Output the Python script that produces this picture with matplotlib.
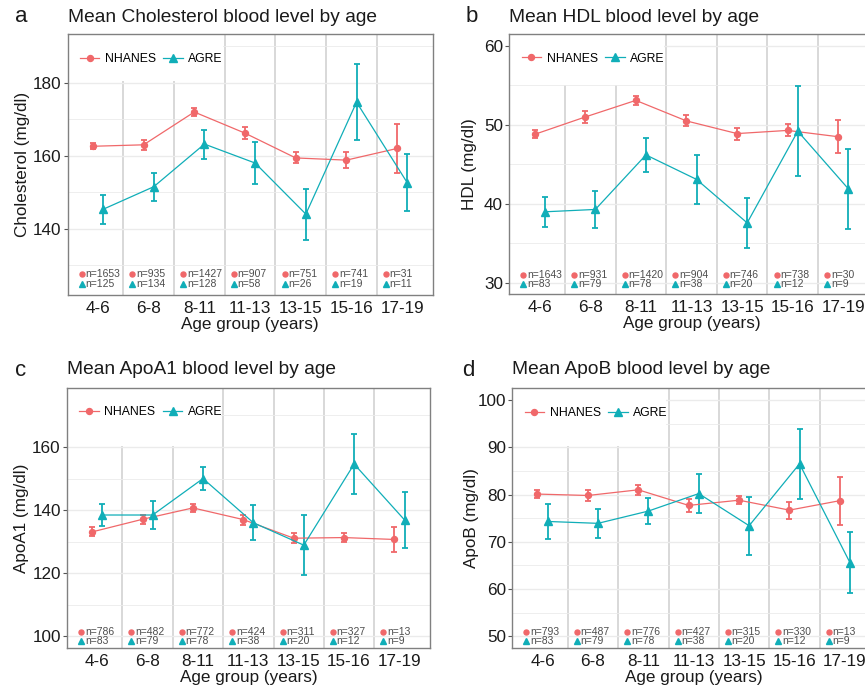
import matplotlib
matplotlib.use("Agg")
import matplotlib.pyplot as plt
from matplotlib.patches import Rectangle
from matplotlib.lines import Line2D
import numpy as np

plt.rcParams['font.family'] = ['Liberation Sans', 'DejaVu Sans']

categories = ["4-6", "6-8", "8-11", "11-13", "13-15", "15-16", "17-19"]

chol_nhanes = [162.6, 163.0, 172.0, 166.2, 159.4, 158.8, 162.0]
chol_nhanes_err = [0.8, 1.3, 1.0, 1.7, 1.5, 2.1, 6.8]
chol_agre = [145.3, 151.5, 163.2, 158.0, 144.0, 174.7, 152.6]
chol_agre_err = [4.0, 3.9, 4.0, 5.7, 7.0, 10.4, 7.8]
chol_n_nhanes = [1653, 935, 1427, 907, 751, 741, 31]
chol_n_agre = [125, 134, 128, 58, 26, 19, 11]

hdl_nhanes = [48.8, 51.0, 53.1, 50.5, 48.9, 49.3, 48.5]
hdl_nhanes_err = [0.5, 0.8, 0.6, 0.7, 0.75, 0.75, 2.1]
hdl_agre = [39.0, 39.3, 46.2, 43.1, 37.6, 49.2, 41.9]
hdl_agre_err = [1.9, 2.3, 2.2, 3.1, 3.15, 5.7, 5.1]
hdl_n_nhanes = [1643, 931, 1420, 904, 746, 738, 30]
hdl_n_agre = [83, 79, 78, 38, 20, 12, 9]

apoa1_nhanes = [133.1, 137.1, 140.7, 137.0, 131.1, 131.3, 130.7]
apoa1_nhanes_err = [1.4, 1.5, 1.2, 1.6, 1.6, 1.4, 4.1]
apoa1_agre = [138.45, 138.45, 150.0, 136.0, 128.9, 154.6, 136.9]
apoa1_agre_err = [3.4, 4.5, 3.6, 5.5, 9.6, 9.6, 8.9]
apoa1_n_nhanes = [786, 482, 772, 424, 311, 327, 13]
apoa1_n_agre = [83, 79, 78, 38, 20, 12, 9]

apob_nhanes = [80.1, 79.8, 81.0, 77.7, 78.8, 76.7, 78.7]
apob_nhanes_err = [0.9, 1.15, 1.0, 1.3, 0.9, 1.8, 5.1]
apob_agre = [74.3, 73.9, 76.5, 80.2, 73.4, 86.5, 65.6]
apob_agre_err = [3.75, 3.0, 2.7, 4.15, 6.1, 7.35, 6.4]
apob_n_nhanes = [793, 487, 776, 427, 315, 330, 13]
apob_n_agre = [83, 79, 78, 38, 20, 12, 9]

RED = '#F0686A'
TEAL = '#10AEB8'
GRID = '#EBEBEB'
SEP = '#D6D6D6'

W, H = 865, 691
fig = plt.figure(figsize=(W / 100, H / 100), dpi=100)


def px_axes(l, r, t, b):
    return fig.add_axes([l / W, (H - b) / H, (r - l) / W, (b - t) / H])


panels = [
    dict(letter='a', title='Mean Cholesterol blood level by age', ylabel='Cholesterol (mg/dl)',
         nh=chol_nhanes, nhe=chol_nhanes_err, ag=chol_agre, age=chol_agre_err,
         nn=chol_n_nhanes, na=chol_n_agre, ylim=(121.8, 193.4), major=[140, 160, 180],
         minor=[130, 150, 170, 190], cut=180.6, box=(67.5, 432.6, 34, 295), rows=(0.080, 0.043),
         letter_x=15, ylab_x=23, ty=17),
    dict(letter='b', title='Mean HDL blood level by age', ylabel='HDL (mg/dl)',
         nh=hdl_nhanes, nhe=hdl_nhanes_err, ag=hdl_agre, age=hdl_agre_err,
         nn=hdl_n_nhanes, na=hdl_n_agre, ylim=(28.6, 61.5), major=[30, 40, 50, 60],
         minor=[35, 45, 55], cut=55.1, box=(509.3, 873.7, 34, 294), rows=(0.073, 0.037),
         letter_x=466, ylab_x=470, ty=17),
    dict(letter='c', title='Mean ApoA1 blood level by age', ylabel='ApoA1 (mg/dl)',
         nh=apoa1_nhanes, nhe=apoa1_nhanes_err, ag=apoa1_agre, age=apoa1_agre_err,
         nn=apoa1_n_nhanes, na=apoa1_n_agre, ylim=(96.3, 178.8), major=[100, 120, 140, 160],
         minor=[110, 130, 150, 170], cut=160.4, box=(67, 429.7, 387.7, 648), rows=(0.0615, 0.026),
         letter_x=15, ylab_x=22, ty=370),
    dict(letter='d', title='Mean ApoB blood level by age', ylabel='ApoB (mg/dl)',
         nh=apob_nhanes, nhe=apob_nhanes_err, ag=apob_agre, age=apob_agre_err,
         nn=apob_n_nhanes, na=apob_n_agre, ylim=(47.5, 102.5), major=[50, 60, 70, 80, 90, 100],
         minor=[55, 65, 75, 85, 95], cut=90.2, box=(512.3, 875.1, 388.3, 648), rows=(0.0615, 0.026),
         letter_x=462, ylab_x=472, ty=370),
]

x = np.arange(1, len(categories) + 1)
dodge = 0.1

for p in panels:
    l, r, t, b = p['box']
    ax = px_axes(l, r, t, b)
    ax.set_xlim(0.4, len(categories) + 0.6)
    ax.set_ylim(*p['ylim'])
    ax.set_yticks(p['major'])
    ax.set_yticks(p['minor'], minor=True)
    ax.set_xticks(x)
    ax.set_xticklabels(categories, fontsize=12.3)
    ax.tick_params(axis='x', length=0, pad=4.5, colors='#1a1a1a')
    ax.tick_params(axis='y', which='major', length=3, width=0.8, color='#555555',
                   labelsize=12.3, labelcolor='#1a1a1a', pad=1.5)
    ax.tick_params(axis='y', which='minor', length=0)
    ax.grid(axis='y', which='major', color=GRID, lw=1.0, zorder=0)
    ax.grid(axis='y', which='minor', color=GRID, lw=0.6, zorder=0)
    ax.set_axisbelow(True)
    for s in ax.spines.values():
        s.set_color('#808080')
        s.set_linewidth(1.0)

    # category separators
    for k in range(1, len(categories)):
        ax.axvline(k + 0.5, color=SEP, lw=1.3, zorder=0.5)
    # legend background box
    ax.add_patch(Rectangle((0.4, p['cut']), 3.46 - 0.4, p['ylim'][1] - p['cut'],
                           facecolor='white', edgecolor='none', zorder=0.8))

    ax.errorbar(x - dodge, p['nh'], yerr=p['nhe'], color=RED, lw=0.9, marker='o', ms=4.3,
                capsize=2.3, elinewidth=1.3, capthick=1.3, zorder=3)
    ax.errorbar(x + dodge, p['ag'], yerr=p['age'], color=TEAL, lw=0.9, marker='^', ms=5.3,
                capsize=2.3, elinewidth=1.3, capthick=1.3, zorder=3)

    # sample size annotations
    r1, r2 = p['rows']
    trans = ax.get_xaxis_transform()
    for i, (a_, b_) in enumerate(zip(p['nn'], p['na'])):
        xi = x[i]
        ax.plot([xi - 0.32], [r1], marker='o', ms=3.6, color=RED, transform=trans,
                clip_on=False, zorder=4, ls='none')
        ax.plot([xi - 0.32], [r2], marker='^', ms=4.0, color=TEAL, transform=trans,
                clip_on=False, zorder=4, ls='none')
        ax.text(xi - 0.245, r1, f'n={a_}', transform=trans, fontsize=7.5, color='#4d4d4d',
                ha='left', va='center', zorder=4)
        ax.text(xi - 0.245, r2, f'n={b_}', transform=trans, fontsize=7.5, color='#4d4d4d',
                ha='left', va='center', zorder=4)

    handles = [Line2D([], [], color=RED, marker='o', ms=4.3, lw=0.9),
               Line2D([], [], color=TEAL, marker='^', ms=5.3, lw=0.9)]
    ax.legend(handles, ['NHANES', 'AGRE'], loc='center left', bbox_to_anchor=(0.0, 0.905),
              ncol=2, frameon=False, fontsize=8.8, handlelength=1.6, handletextpad=0.45,
              columnspacing=0.6, borderaxespad=0.6)

    ax.set_xlabel('Age group (years)', fontsize=12.3, labelpad=0.5, color='#1a1a1a')
    fig.text(l / W, 1 - p['ty'] / H, p['title'], fontsize=13.8, ha='left', va='center',
             color='#1a1a1a')
    fig.text(p['letter_x'] / W, 1 - p['ty'] / H, p['letter'], fontsize=16, ha='left',
             va='center', color='#1a1a1a')
    fig.text(p['ylab_x'] / W, 1 - ((t + b) / 2) / H, p['ylabel'], fontsize=12.3,
             rotation=90, ha='center', va='center', color='#1a1a1a')

fig.savefig('out.png', dpi=100, facecolor='white')
